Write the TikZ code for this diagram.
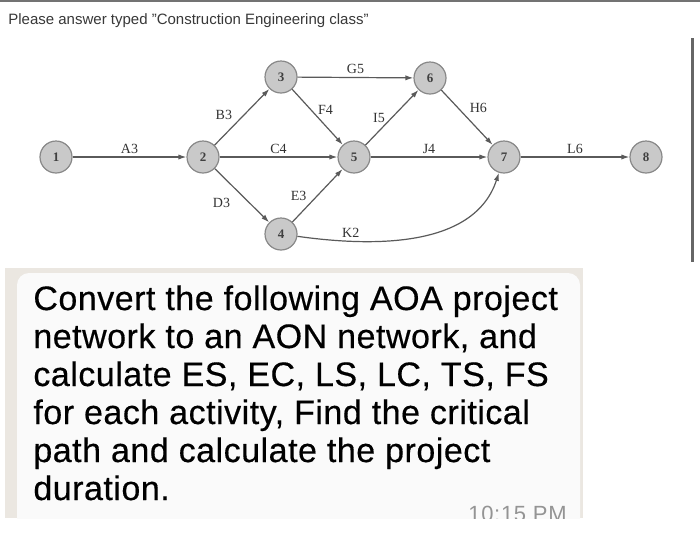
\documentclass[tikz,border=0pt]{standalone}
\usepackage{fontspec}
\setmainfont{Liberation Sans}
\newfontfamily\netfont{Liberation Serif}
\newfontfamily\bubblefont[LetterSpace=1.5,FakeBold=0.4]{Liberation Sans}
\newfontfamily\stampfont[LetterSpace=3]{Liberation Sans}
\usetikzlibrary{arrows.meta}
\definecolor{edgegray}{HTML}{5A5A5A}
\definecolor{nodefill}{HTML}{C9C9C9}
\definecolor{nodeline}{HTML}{888888}
\definecolor{paper}{HTML}{EBE7E1}
\definecolor{bubble}{HTML}{FAFAFA}
\tikzset{
  event/.style={circle,draw=nodeline,fill=nodefill,line width=0.6pt,minimum size=16pt,inner sep=0pt,font=\netfont\fontsize{6.5pt}{7pt}\selectfont\bfseries,text=black!75},
  act/.style={draw=edgegray,line width=0.6pt,-{Latex[length=4pt,width=2.6pt]}},
  lbl/.style={font=\netfont\fontsize{7pt}{8pt}\selectfont,text=black!80,inner sep=1.5pt},
  question/.style={anchor=base west,inner sep=0pt,font=\bubblefont\fontsize{17pt}{19pt}\selectfont}
}
\begin{document}
\begin{tikzpicture}[x=0.5pt,y=-0.5pt]
  \useasboundingbox (0,0) rectangle (700,532);
  \fill[white] (0,0) rectangle (700,532);

  % kopfzeile
  \draw[black!55,line width=1pt] (0,1) -- (700,1);
  \node[anchor=base west,inner sep=0pt,font=\fontsize{7.5pt}{9pt}\selectfont,text=black!78] (header) at (8,24)
    {Please answer typed "Construction Engineering class"};
  \fill[black!60] (691,38) rectangle (694,262);

  % ereignisse
  \node[event] (n1) at (56,157) {1};
  \node[event] (n2) at (203,157) {2};
  \node[event] (n3) at (281,77) {3};
  \node[event] (n4) at (281,234) {4};
  \node[event] (n5) at (354,157) {5};
  \node[event] (n6) at (430,78) {6};
  \node[event] (n7) at (504,157) {7};
  \node[event] (n8) at (646,157) {8};

  % vorgaenge
  \draw[act] (n1) -- (n2) node[lbl,midway,above] {A3};
  \draw[act] (n2) -- (n3) node[lbl,pos=0.53,left=4pt] {B3};
  \draw[act] (n2) -- (n5) node[lbl,midway,above] {C4};
  \draw[act] (n2) -- (n4) node[lbl,pos=0.64,left=8pt] {D3};
  \draw[act] (n4) -- (n5) node[lbl,pos=0.49,left=3.5pt] {E3};
  \draw[act] (n3) -- (n5) node[lbl,pos=0.38,right=1.5pt] {F4};
  \draw[act] (n3) -- (n6) node[lbl,midway,above] {G5};
  \draw[act] (n6) -- (n7) node[lbl,pos=0.33,right=4pt] {H6};
  \draw[act] (n5) -- (n6) node[lbl,pos=0.49,left=1.5pt] {I5};
  \draw[act] (n5) -- (n7) node[lbl,midway,above] {J4};
  \draw[act] (n4) to[out=-8,in=-108,looseness=0.95] node[lbl,pos=0.22,above] {K2} (n7);
  \draw[act] (n7) -- (n8) node[lbl,midway,above] {L6};

  % nachricht
  \fill[paper] (5,268) rectangle (583,518);
  \begin{scope}
    \clip (0,0) rectangle (700,518);
    \fill[bubble,rounded corners=6pt] (17,273) rectangle (580,540);
    \node[anchor=base east,inner sep=0pt,font=\stampfont\fontsize{11pt}{13pt}\selectfont,text=black!42] (stamp) at (567,521) {10:15 PM};
  \end{scope}
  \foreach \t [count=\i] in {{Convert the following AOA project},{network to an AON network, and},
      {calculate ES, EC, LS, LC, TS, FS},{for each activity, Find the critical},
      {path and calculate the project},{duration.}}
    \node[question] (line\i) at (33,{310+38*(\i-1)}) {\t};
\end{tikzpicture}
\end{document}
